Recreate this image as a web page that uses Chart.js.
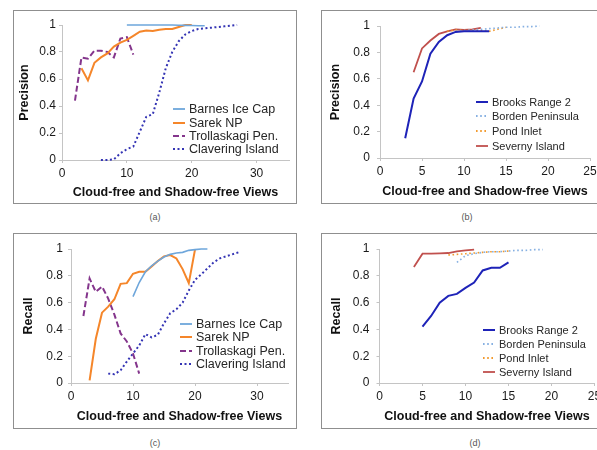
<!DOCTYPE html>
<html>
<head>
<meta charset="utf-8">
<script src="https://cdn.jsdelivr.net/npm/chart.js@4.4.1/dist/chart.umd.min.js"></script>
<style>
  html, body { margin: 0; padding: 0; background: #fff; width: 597px; height: 450px; overflow: hidden; position: relative;
    font-family: 'Liberation Sans', Arial, sans-serif; }
  .panel { position: absolute; border: 1px solid #8f8f8f; background: #fff; overflow: hidden; }
  .panel canvas { position: absolute; left: 0; top: 0; }
  .cap { position: absolute; font-size: 9px; color: #555; transform: translate(-50%, -50%); }
  .legend { position: absolute; color: #262626; }
  .legend .row { display: flex; align-items: center; white-space: nowrap; }
  .legend svg { flex: none; margin-right: 4px; }
</style>
</head>
<body>
<div class="panel" id="pa" style="left:13px;top:10px;width:282px;height:192px"><canvas id="ca"></canvas></div>
<div class="panel" id="pb" style="left:321px;top:10px;width:288px;height:192px"><canvas id="cb"></canvas></div>
<div class="panel" id="pc" style="left:13px;top:233px;width:282px;height:194px"><canvas id="cc"></canvas></div>
<div class="panel" id="pd" style="left:321px;top:233px;width:288px;height:194px"><canvas id="cd"></canvas></div>
<div class="cap" style="left:155px;top:217px">(a)</div>
<div class="cap" style="left:467px;top:217px">(b)</div>
<div class="cap" style="left:155px;top:443px">(c)</div>
<div class="cap" style="left:475px;top:443px">(d)</div>

<script>
// ---- (a) Precision: Barnes Ice Cap, Sarek NP, Trollaskagi Pen., Clavering Island
const precBarnesX = [10, 11, 12, 13, 14, 15, 16, 17, 18, 19, 20, 21, 22];
const precBarnes  = [1, 1, 1, 1, 1, 1, 1, 1, 0.998, 0.997, 0.996, 0.995, 0.995];
const precSarekX  = [3, 4, 5, 6, 7, 8, 9, 10, 11, 12, 13, 14, 15, 16, 17, 18, 19, 20];
const precSarek   = [0.68, 0.59, 0.72, 0.76, 0.79, 0.84, 0.87, 0.89, 0.92, 0.95, 0.96, 0.955, 0.965, 0.97, 0.97, 0.985, 1.0, 1.0];
const precTrollX  = [2, 3, 4, 5, 6, 7, 8, 9, 10, 11];
const precTroll   = [0.44, 0.76, 0.75, 0.81, 0.81, 0.80, 0.76, 0.90, 0.91, 0.78];
const precClavX   = [6, 7, 8, 9, 10, 11, 12, 13, 14, 15, 16, 17, 18, 19, 20, 21, 22, 23, 24, 25, 26, 27];
const precClav    = [0, 0, 0.005, 0.05, 0.08, 0.10, 0.21, 0.32, 0.34, 0.50, 0.68, 0.80, 0.88, 0.93, 0.955, 0.97, 0.975, 0.98, 0.985, 0.99, 0.995, 1.0];

// ---- (b) Precision: Brooks Range 2, Borden Peninsula, Pond Inlet, Severny Island
const precBrooksX   = [3, 4, 5, 6, 7, 8, 9, 10, 11, 12, 13];
const precBrooks    = [0.15, 0.45, 0.58, 0.79, 0.88, 0.93, 0.955, 0.96, 0.96, 0.96, 0.96];
const precBordenX   = [9, 10, 11, 12, 13, 14, 15, 16, 17, 18, 19];
const precBorden    = [0.96, 0.965, 0.97, 0.975, 0.98, 0.985, 0.99, 0.99, 0.995, 0.995, 1.0];
const precPondX     = [8, 9, 10, 11, 12, 13, 14, 15];
const precPond      = [0.96, 0.97, 0.965, 0.965, 0.965, 0.96, 0.975, 0.99];
const precSevernyX  = [4, 5, 6, 7, 8, 9, 10, 11, 12];
const precSevernyY  = [0.65, 0.83, 0.89, 0.94, 0.96, 0.975, 0.97, 0.975, 0.985];

// ---- (c) Recall: Barnes Ice Cap, Sarek NP, Trollaskagi Pen., Clavering Island
const recBarnesX = [10, 11, 12, 13, 14, 15, 16, 17, 18, 19, 20, 21, 22];
const recBarnes  = [0.645, 0.75, 0.83, 0.875, 0.91, 0.94, 0.96, 0.97, 0.975, 0.99, 0.995, 1.0, 1.0];
const recSarekX  = [3, 4, 5, 6, 7, 8, 9, 10, 11, 12, 13, 14, 15, 16, 17, 18, 19, 20];
const recSarek   = [0.02, 0.33, 0.525, 0.57, 0.625, 0.74, 0.745, 0.815, 0.83, 0.83, 0.87, 0.91, 0.945, 0.955, 0.93, 0.85, 0.745, 0.995];
const recTrollX  = [2, 3, 4, 5, 6, 7, 8, 9, 10, 11];
const recTroll   = [0.50, 0.78, 0.68, 0.72, 0.63, 0.51, 0.37, 0.31, 0.22, 0.07];
const recClavX   = [6, 7, 8, 9, 10, 11, 12, 13, 14, 15, 16, 17, 18, 19, 20, 21, 22, 23, 24, 25, 26, 27];
const recClav    = [0.07, 0.065, 0.095, 0.16, 0.22, 0.28, 0.365, 0.34, 0.36, 0.445, 0.52, 0.55, 0.60, 0.69, 0.77, 0.81, 0.855, 0.90, 0.93, 0.945, 0.96, 0.975];

// ---- (d) Recall: Brooks Range 2, Borden Peninsula, Pond Inlet, Severny Island
const recBrooksX  = [5, 6, 7, 8, 9, 10, 11, 12, 13, 14, 15];
const recBrooks   = [0.42, 0.50, 0.60, 0.65, 0.665, 0.71, 0.75, 0.84, 0.86, 0.86, 0.90];
const recBordenX  = [9, 10, 11, 12, 13, 14, 15, 16, 17, 18, 19];
const recBorden   = [0.90, 0.95, 0.965, 0.975, 0.98, 0.98, 0.985, 0.99, 0.99, 0.995, 0.995];
const recPondX    = [8, 9, 10, 11, 12, 13, 14, 15];
const recPond     = [0.955, 0.96, 0.965, 0.97, 0.975, 0.98, 0.98, 0.985];
const recSevernyX = [4, 5, 6, 7, 8, 9, 10, 11];
const recSevernyY = [0.865, 0.965, 0.965, 0.967, 0.97, 0.982, 0.99, 0.995];

// axis settings
const xTitle = 'Cloud-free and Shadow-free Views';
const yTicksStep = 0.2;

const FONT = "'Liberation Sans', Arial, sans-serif";

// series styles
const STYLE = {
  barnes:    { label: 'Barnes Ice Cap',    color: '#6ea6db', width: 1.6, dash: [] },
  sarek:     { label: 'Sarek NP',          color: '#f5862a', width: 2,   dash: [] },
  troll:     { label: 'Trollaskagi Pen.',  color: '#84358c', width: 2,   dash: [6, 3] },
  clav:      { label: 'Clavering Island',  color: '#3434b4', width: 2,   dash: [2, 2.5] },
  brooks:    { label: 'Brooks Range 2',    color: '#1e23b8', width: 2,   dash: [] },
  borden:    { label: 'Borden Peninsula',  color: '#86b0e2', width: 1.6, dash: [1.6, 2.6] },
  pond:      { label: 'Pond Inlet',        color: '#f29a2e', width: 1.6, dash: [1.6, 2.6] },
  severny:   { label: 'Severny Island',    color: '#c0504d', width: 1.8, dash: [] }
};

function pts(xs, ys) { return xs.map((x, i) => ({ x: x, y: ys[i] })); }

function series(key, xs, ys) {
  const s = STYLE[key];
  return {
    label: s.label, data: pts(xs, ys),
    borderColor: s.color, backgroundColor: s.color,
    borderWidth: s.width, borderDash: s.dash,
    pointRadius: 0, pointHoverRadius: 0, tension: 0, fill: false, clip: false
  };
}

// tick text like "0", "0.2", ..., "1"
function fmtTick(v) { return String(Math.round(v * 10) / 10); }

function makeChart(canvasId, W, H, plot, xMax, xStep, yLabel, yTitlePad, xTitlePad, datasets) {
  const cv = document.getElementById(canvasId);
  cv.width = W; cv.height = H;
  cv.style.width = W + 'px'; cv.style.height = H + 'px';
  const axisGray = '#c4c4c4';
  return new Chart(cv, {
    type: 'line',
    data: { datasets: datasets },
    options: {
      responsive: false, animation: false, devicePixelRatio: 1,
      layout: { padding: { left: 0, top: plot.top, right: W - plot.right, bottom: 0 } },
      plugins: { legend: { display: false }, tooltip: { enabled: false } },
      scales: {
        x: {
          type: 'linear', min: 0, max: xMax,
          ticks: { stepSize: xStep, includeBounds: false, maxRotation: 0, padding: 3,
                   color: '#1a1a1a', font: { family: FONT, size: 12 }, callback: fmtTick },
          grid: { display: true, drawOnChartArea: false, drawTicks: true, tickLength: 3, color: axisGray },
          border: { display: true, color: axisGray, width: 1 },
          title: { display: true, text: xTitle, color: '#111',
                   font: { family: FONT, size: 12.5, weight: 'bold' },
                   padding: { top: 0, bottom: xTitlePad } },
          afterFit: (s) => { s.height = H - plot.bottom; }
        },
        y: {
          type: 'linear', min: 0, max: 1,
          ticks: { stepSize: yTicksStep, padding: plot.yPad, color: '#1a1a1a',
                   font: { family: FONT, size: 12 }, callback: fmtTick },
          grid: { display: true, drawOnChartArea: false, drawTicks: true, tickLength: 3, color: axisGray },
          border: { display: true, color: axisGray, width: 1 },
          title: { display: true, text: yLabel, color: '#111',
                   font: { family: FONT, size: 12.5, weight: 'bold' },
                   padding: { top: yTitlePad, bottom: 0 } },
          afterFit: (s) => { s.width = plot.left; }
        }
      }
    }
  });
}

// HTML legend generated from the chart's own datasets
function addLegend(chart, left, top, rowH, sampleW, fontSize) {
  const box = document.createElement('div');
  box.className = 'legend';
  box.style.left = left + 'px';
  box.style.top = top + 'px';
  box.style.fontSize = fontSize + 'px';
  chart.data.datasets.forEach((ds) => {
    const row = document.createElement('div');
    row.className = 'row';
    row.style.height = rowH + 'px';
    const dash = (ds.borderDash && ds.borderDash.length) ? ds.borderDash.join(' ') : 'none';
    row.innerHTML =
      '<svg width="' + sampleW + '" height="6"><line x1="0" y1="3" x2="' + sampleW + '" y2="3" stroke="' +
      ds.borderColor + '" stroke-width="' + Math.max(ds.borderWidth, 1.8) + '" stroke-dasharray="' + dash + '"/></svg>' +
      '<span>' + ds.label + '</span>';
    box.appendChild(row);
  });
  document.body.appendChild(box);
}

const chA = makeChart('ca', 282, 192, { left: 48, right: 275, top: 14, bottom: 149, yPad: 3 }, 35, 10, 'Precision', 3.5, 2.8, [
  series('barnes', precBarnesX, precBarnes),
  series('sarek', precSarekX, precSarek),
  series('troll', precTrollX, precTroll),
  series('clav', precClavX, precClav)
]);
const chB = makeChart('cb', 288, 192, { left: 58, right: 268, top: 15, bottom: 147, yPad: 7 }, 25, 5, 'Precision', 6.5, 3.8, [
  series('brooks', precBrooksX, precBrooks),
  series('borden', precBordenX, precBorden),
  series('pond', precPondX, precPond),
  series('severny', precSevernyX, precSevernyY)
]);
const chC = makeChart('cc', 282, 194, { left: 57, right: 274, top: 15, bottom: 149, yPad: 5 }, 35, 10, 'Recall', 6.8, 3.8, [
  series('barnes', recBarnesX, recBarnes),
  series('sarek', recSarekX, recSarek),
  series('troll', recTrollX, recTroll),
  series('clav', recClavX, recClav)
]);
const chD = makeChart('cd', 288, 194, { left: 57.5, right: 272.5, top: 15, bottom: 149, yPad: 7 }, 25, 5, 'Recall', 7.2, 3.8, [
  series('brooks', recBrooksX, recBrooks),
  series('borden', recBordenX, recBorden),
  series('pond', recPondX, recPond),
  series('severny', recSevernyX, recSevernyY)
]);

addLegend(chA, 173, 102.6, 13.3, 12, 12.5);
addLegend(chB, 476, 94.2, 14.7, 12, 11);
addLegend(chC, 180, 317.3, 13.3, 12, 12.5);
addLegend(chD, 483, 323, 14, 12, 11);
</script>
</body>
</html>
